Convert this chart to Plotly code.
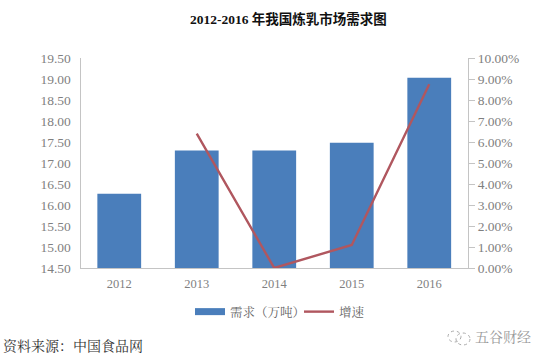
import plotly.graph_objects as go

years = ["2012", "2013", "2014", "2015", "2016"]
demand = [16.27, 17.30, 17.30, 17.48, 19.03]
growth = [None, 6.4, 0.0, 1.1, 8.75]
left_ticks = [14.5, 15, 15.5, 16, 16.5, 17, 17.5, 18, 18.5, 19, 19.5]
right_ticks = [0, 1, 2, 3, 4, 5, 6, 7, 8, 9, 10]
right_labels = ["0.00%", "1.00%", "2.00%", "3.00%", "4.00%", "5.00%", "6.00%", "7.00%", "8.00%", "9.00%", "10.00%"]

SERIF = "Liberation Serif, 'Noto Sans CJK SC', serif"
CJK = "'Noto Serif CJK SC', 'Noto Sans CJK SC', sans-serif"
GREY = "#7f7f7f"
AXIS = "#c4c4c4"
W, H = 546, 361

fig = go.Figure()
fig.add_bar(x=years, y=demand, name="需求（万吨）", marker_color="#4a7ebb",
            marker_line_width=0, showlegend=False)
# legend swatch for the bars: wide flat rectangle as in the reference
fig.add_scatter(x=[years[0]], y=[None], name="需求（万吨）", mode="lines",
                line=dict(color="#4a7ebb", width=7))
fig.add_scatter(x=years, y=growth, name="增速", mode="lines", yaxis="y2",
                line=dict(color="#b0575f", width=2.4))

def circle(x0, y0, x1, y1):
    return dict(type="circle", xref="paper", yref="paper",
                x0=x0 / W, x1=x1 / W, y0=1 - y1 / H, y1=1 - y0 / H,
                line=dict(color="#aaaaaa", width=1, dash="dot"))

fig.update_layout(
    width=W, height=H, margin=dict(l=0, r=0, t=0, b=0, autoexpand=False),
    paper_bgcolor="white", plot_bgcolor="white", showlegend=True,
    bargap=0.435,
    font=dict(family=SERIF, size=12, color=GREY),
    xaxis=dict(domain=[80.5 / W, 468 / W], type="category", showgrid=False, ticks="",
               showline=True, linecolor=AXIS, linewidth=1, automargin=False,
               ticklabelstandoff=4,
               tickfont=dict(size=12.5, color=GREY, family=SERIF)),
    yaxis=dict(range=[14.5, 19.5], tickvals=left_ticks, tickformat=".2f", showgrid=False,
               showline=True, linecolor=AXIS, linewidth=1, ticks="", automargin=False,
               ticklabelstandoff=6,
               tickfont=dict(size=13.5, color=GREY, family=SERIF),
               domain=[1 - 268 / H, 1 - 58 / H]),
    yaxis2=dict(range=[0, 10], tickvals=right_ticks, ticktext=right_labels, overlaying="y",
                side="right", anchor="x", showgrid=False, showline=True, linecolor=AXIS, linewidth=1,
                ticks="outside", ticklen=6, tickcolor=AXIS, automargin=False,
                tickfont=dict(size=13.5, color=GREY, family=SERIF)),
    legend=dict(orientation="h", x=190 / W, xanchor="left", y=1 - 312 / H, yanchor="middle",
                font=dict(size=12.5, color="#666666", family=CJK), itemwidth=30,
                entrywidth=64, entrywidthmode="pixels",
                bgcolor="rgba(0,0,0,0)"),
    shapes=[circle(448, 331, 461, 342), circle(456, 333, 470, 345)],
    annotations=[
        dict(text="<b>2012-2016 年我国炼乳市场需求图</b>", x=288 / W, y=1 - 19 / H, xref="paper", yref="paper",
             showarrow=False, yanchor="middle", xanchor="center",
             font=dict(size=13.5, color="#111111", family=SERIF)),
        dict(text="资料来源：中国食品网", x=1 / W, y=1 - 345 / H, xref="paper", yref="paper",
             showarrow=False, xanchor="left", yanchor="middle",
             font=dict(size=14, color="#333333", family=CJK)),
        dict(text="五谷财经", x=503 / W, y=1 - 336 / H, xref="paper", yref="paper",
             showarrow=False, xanchor="center", yanchor="middle",
             font=dict(size=14, color="#999999", family=CJK)),
    ],
)
fig.write_html("out.html", post_script="document.body.style.margin='0';",
               config=dict(displayModeBar=False))
